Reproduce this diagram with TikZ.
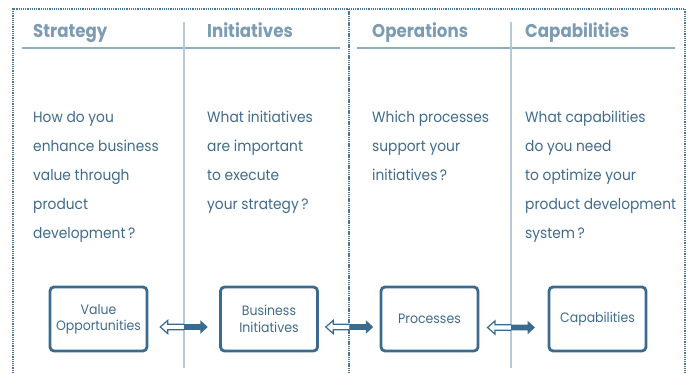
\documentclass[tikz,border=0pt]{standalone}
\usepackage{fontspec}
\setmainfont{Poppins}
\newfontfamily\headfont[FakeStretch=0.9]{Poppins}
\newfontfamily\bodyfont[FakeStretch=0.92]{Poppins}
\usetikzlibrary{calc}
\definecolor{headtxt}{HTML}{7B9CB4}
\definecolor{rulecol}{HTML}{8DADC4}
\definecolor{colsep}{HTML}{B6C9D6}
\definecolor{bodytxt}{HTML}{3F6B8B}
\definecolor{boxcol}{HTML}{3A6B8E}
\definecolor{dotcol}{HTML}{4A7898}
\tikzset{
  frame/.style={draw=dotcol,line width=1.7pt,dash pattern=on 1.3pt off 0.9pt},
  headrule/.style={draw=rulecol,line width=2pt},
  colrule/.style={draw=colsep,line width=2pt},
  head/.style={anchor=base west,inner sep=0pt,text=headtxt,font=\headfont\bfseries\fontsize{18.5}{20}\selectfont},
  question/.style={anchor=north west,inner sep=0pt,align=left,text=bodytxt,font=\bodyfont\fontsize{15}{29}\selectfont},
  block/.style={draw=boxcol,line width=2.8pt,rounded corners=4pt,minimum width=97pt,minimum height=64pt,
    align=center,text=bodytxt,font=\bodyfont\fontsize{13.6}{16.5}\selectfont},
  hollowhalf/.style={draw=boxcol,line width=1.2pt,fill=white,line join=miter},
  solidhalf/.style={fill=boxcol,draw=none},
}
\newcommand{\twowayarrow}[1]{%
  \draw[hollowhalf] ($(#1)+(0,-2.8)$) -- ++(-16,0) -- ++(0,-3.8) -- ($(#1)+(-23.5,0)$)
     -- ($(#1)+(-16,6.6)$) -- ++(0,-3.8) -- ($(#1)+(0,2.8)$);
  \fill[solidhalf] ($(#1)+(0,-2.8)$) -- ++(16.5,0) -- ++(0,-4) -- ($(#1)+(24,0)$)
     -- ($(#1)+(16.5,6.8)$) -- ++(0,-4) -- ($(#1)+(0,2.8)$) -- cycle;}
\begin{document}
\begin{tikzpicture}[x=1pt,y=-1pt]
\useasboundingbox (0,0) rectangle (689,373);
% dotted frame split into two halves
\draw[frame] (13,373) -- (13,9) -- (685,9) -- (685,373);
\draw[frame] (349,9) -- (349,373);
% header rules and column separators
\draw[headrule] (22,48) -- (340,48);
\draw[headrule] (357,48) -- (675,48);
\draw[colrule] (183.5,22) -- (183.5,368);
\draw[colrule] (511,22) -- (511,368);
% headers
\node[head] (hs) at (33,37) {Strategy};
\node[head] (hi) at (207,37) {Initiatives};
\node[head] (ho) at (372,37) {Operations};
\node[head] (hc) at (525,37) {Capabilities};
% questions
\node[question] (qs) at (33,111) {How do you\\enhance business\\value through\\product\\development\,?};
\node[question] (qi) at (207,111) {What initiatives\\are important\\to execute\\your strategy\,?};
\node[question] (qo) at (372,111) {Which processes\\support your\\initiatives\,?};
\node[question] (qc) at (525,111) {What capabilities\\do you need\\to optimize your\\product development\\system\,?};
% blocks
\node[block] (vo) at (98.5,319) {Value\\Opportunities};
\node[block] (bi) at (269,319) {Business\\Initiatives};
\node[block] (pr) at (429.5,319) {Processes};
\node[block] (ca) at (597.5,319) {Capabilities};
% two-way arrows between blocks
\coordinate (a1) at ($(vo.east)!0.5!(bi.west)+(0,8)$);
\coordinate (a2) at ($(bi.east)!0.5!(pr.west)+(0,8)$);
\coordinate (a3) at ($(pr.east)!0.5!(ca.west)+(-2.5,8.5)$);
\twowayarrow{a1}
\twowayarrow{a2}
\twowayarrow{a3}
\end{tikzpicture}
\end{document}
